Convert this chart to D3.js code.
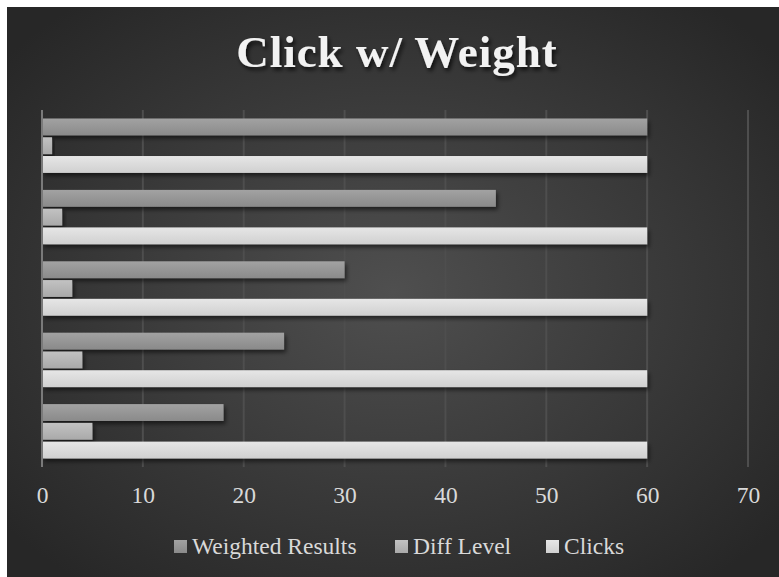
<!DOCTYPE html>
<html>
<head>
<meta charset="utf-8">
<script src="https://cdn.jsdelivr.net/npm/d3@7"></script>
<style>
  html, body { margin: 0; padding: 0; background: #ffffff; }
  svg { display: block; }
</style>
</head>
<body>
<svg id="chart" width="779" height="577"></svg>
<script>
// ---- data ----
const categories = ["5", "4", "3", "2", "1"]; // top to bottom (labels hidden in original)
const seriesNames = ["Weighted Results", "Diff Level", "Clicks"];
const weightedResults = [60, 45, 30, 24, 18];
const diffLevel = [1, 2, 3, 4, 5];
const clicks = [60, 60, 60, 60, 60];
const xTicks = [0, 10, 20, 30, 40, 50, 60, 70];
const chartTitle = "Click w/ Weight";

const seriesValues = [weightedResults, diffLevel, clicks];
const SERIF = "Liberation Serif";

const svg = d3.select("#chart");
const defs = svg.append("defs");

// background radial gradient
const bg = defs.append("radialGradient").attr("id", "bgGrad")
  .attr("cx", "50%").attr("cy", "50%").attr("r", "65%");
bg.append("stop").attr("offset", "0%").attr("stop-color", "#4f4f4f");
bg.append("stop").attr("offset", "100%").attr("stop-color", "#272727");

// bar gradients
const barColors = [
  ["#a2a2a2", "#8a8a8a"],
  ["#c2c2c2", "#a9a9a9"],
  ["#e6e6e6", "#d0d0d0"]
];
barColors.forEach((c, i) => {
  const g = defs.append("linearGradient").attr("id", "barGrad" + i)
    .attr("x1", 0).attr("y1", 0).attr("x2", 0).attr("y2", 1);
  g.append("stop").attr("offset", "0%").attr("stop-color", c[0]);
  g.append("stop").attr("offset", "100%").attr("stop-color", c[1]);
});

const shadow = defs.append("filter").attr("id", "barShadow")
  .attr("x", "-10%").attr("y", "-30%").attr("width", "130%").attr("height", "180%");
shadow.append("feDropShadow").attr("dx", 2).attr("dy", 3).attr("stdDeviation", 2.2)
  .attr("flood-color", "#000").attr("flood-opacity", 0.55);

const tshadow = defs.append("filter").attr("id", "titleShadow")
  .attr("x", "-10%").attr("y", "-30%").attr("width", "130%").attr("height", "180%");
tshadow.append("feDropShadow").attr("dx", 2).attr("dy", 3).attr("stdDeviation", 2)
  .attr("flood-color", "#000").attr("flood-opacity", 0.75);

// background panel
svg.append("rect").attr("x", 7).attr("y", 7).attr("width", 772).attr("height", 570)
  .attr("fill", "url(#bgGrad)");

// title
svg.append("text")
  .attr("x", 397).attr("y", 67)
  .attr("text-anchor", "middle")
  .style("font-family", SERIF)
  .style("font-weight", "bold")
  .style("font-size", "45px")
  .style("letter-spacing", "1px")
  .attr("fill", "#f2f2f2")
  .attr("filter", "url(#titleShadow)")
  .text(chartTitle);

// scales
const plot = { left: 42, right: 748, top: 110, bottom: 467 };
const x = d3.scaleLinear().domain([0, 70]).range([plot.left, plot.right]);
const y = d3.scaleBand().domain(categories).range([plot.top, plot.bottom])
  .paddingInner(0.238).paddingOuter(0.119);
const ys = d3.scaleBand().domain(seriesNames).range([0, y.bandwidth()]).paddingInner(0.1);

// gridlines
svg.append("g").selectAll("line").data(xTicks.filter(t => t > 0)).join("line")
  .attr("x1", d => x(d)).attr("x2", d => x(d))
  .attr("y1", plot.top).attr("y2", plot.bottom)
  .attr("stroke", "#4e4e4e").attr("stroke-width", 2);

// bars
const groups = svg.append("g").selectAll("g").data(categories).join("g")
  .attr("transform", d => `translate(0,${y(d)})`);
groups.each(function (cat, ci) {
  d3.select(this).selectAll("rect").data(seriesNames).join("rect")
    .attr("x", x(0))
    .attr("y", s => ys(s))
    .attr("height", ys.bandwidth())
    .attr("width", (s, si) => x(seriesValues[si][ci]) - x(0))
    .attr("fill", (s, si) => `url(#barGrad${si})`)
    .attr("filter", "url(#barShadow)");
});

// vertical axis line at 0
svg.append("line")
  .attr("x1", x(0)).attr("x2", x(0))
  .attr("y1", plot.top).attr("y2", plot.bottom)
  .attr("stroke", "#7a7a7a").attr("stroke-width", 2);

// x axis labels
const xAxis = d3.axisBottom(x).tickValues(xTicks).tickSize(0).tickPadding(0);
const ax = svg.append("g").attr("transform", `translate(0,${plot.bottom})`).call(xAxis);
ax.attr("font-family", null).attr("font-size", null);
ax.select(".domain").remove();
ax.selectAll("text")
  .attr("dy", 0).attr("y", 36)
  .style("font-family", SERIF)
  .style("font-size", "23.5px")
  .attr("fill", "#d9d9d9");

// legend
const legendX = [174, 395, 546];
const leg = svg.append("g").selectAll("g").data(seriesNames).join("g")
  .attr("transform", (d, i) => `translate(${legendX[i]},540)`);
leg.append("rect").attr("width", 13).attr("height", 13)
  .attr("fill", (d, i) => `url(#barGrad${i})`);
leg.append("text").attr("x", 18).attr("y", 14)
  .style("font-family", SERIF)
  .style("font-size", "23.5px")
  .attr("fill", "#d9d9d9")
  .text(d => d);
</script>
</body>
</html>
